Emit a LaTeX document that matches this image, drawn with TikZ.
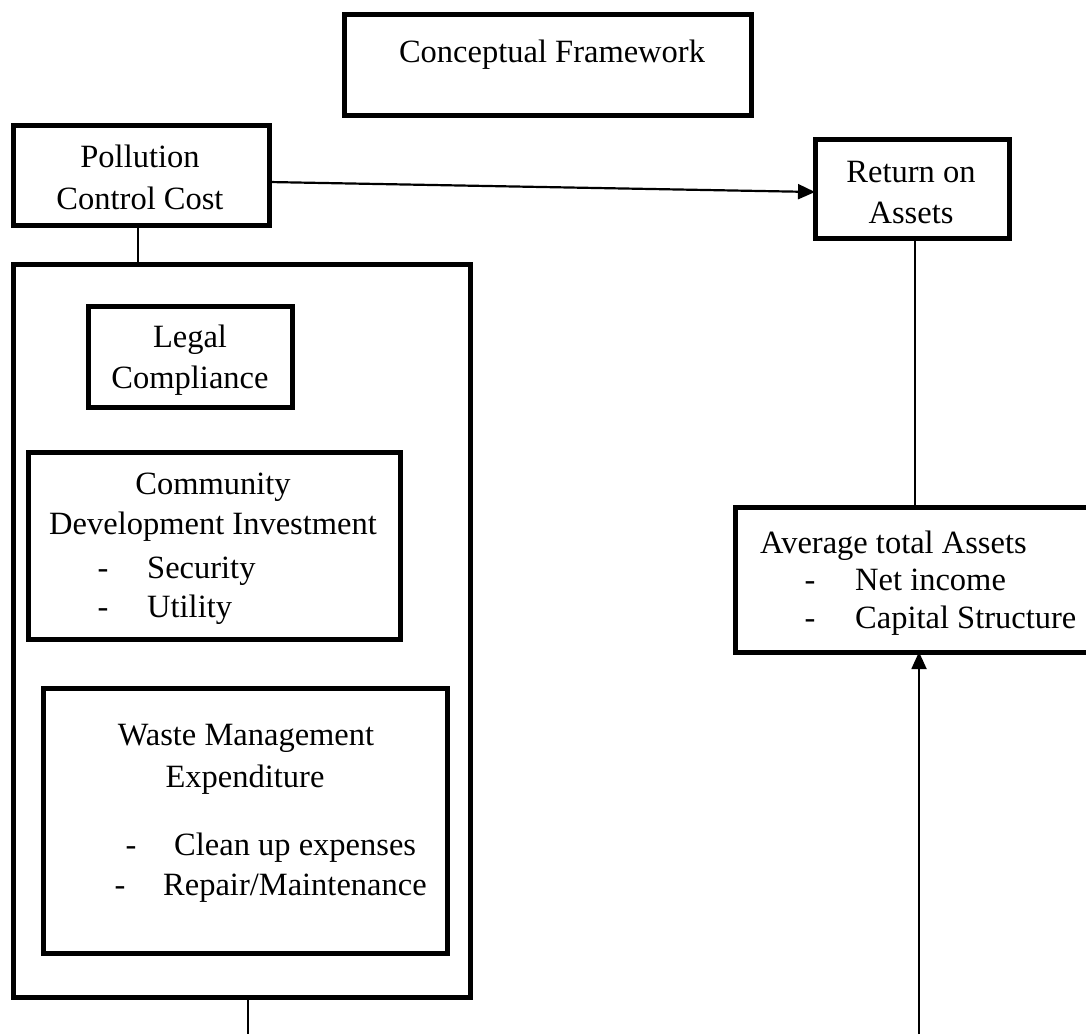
\documentclass[tikz,border=0pt]{standalone}
\usepackage{fontspec}
\setmainfont{Liberation Serif}
\usetikzlibrary{arrows.meta,calc}
\tikzset{
  box/.style={draw, line width=5pt, rectangle, inner sep=0pt, outer sep=0pt},
  txt/.style={anchor=base, inner sep=0pt, font=\fontsize{32.5}{39}\selectfont},
  ltxt/.style={anchor=base west, inner sep=0pt, font=\fontsize{32.5}{39}\selectfont},
  conn/.style={line width=1.8pt},
  arr/.style={line width=2.2pt, -{Triangle[length=17pt,width=15pt]}}
}
\begin{document}
\begin{tikzpicture}[x=1pt,y=-1pt]
\useasboundingbox (0,0) rectangle (1086,1034);
% boxes
\node[box, minimum width=407pt, minimum height=101pt] (title) at (547.5,64.5) {};
\node[box, minimum width=256pt, minimum height=100pt] (poll) at (141,175) {};
\node[box, minimum width=194pt, minimum height=99pt] (roa) at (912,188.5) {};
\node[box, minimum width=457pt, minimum height=733pt] (outer) at (241.5,630.5) {};
\node[box, minimum width=204pt, minimum height=101pt] (legal) at (190,356.5) {};
\node[box, minimum width=372pt, minimum height=187pt] (comm) at (214,545.5) {};
\node[box, minimum width=404pt, minimum height=265pt] (waste) at (245,820.5) {};
\node[box, minimum width=360pt, minimum height=145pt] (avg) at (915,579.5) {};
% texts
\node[txt] (t1) at (552,62) {Conceptual Framework};
\node[txt] (p1) at (140,167) {Pollution};
\node[txt] (p2) at (140,209) {Control Cost};
\node[txt] (r1) at (911,182) {Return on};
\node[txt] (r2) at (911,223) {Assets};
\node[txt] (l1) at (190,347) {Legal};
\node[txt] (l2) at (190,388) {Compliance};
\node[txt] (c1) at (213,494) {Community};
\node[txt] (c2) at (213,534) {Development Investment};
\node[txt] (cd1) at (103,578) {-};
\node[ltxt] (c3) at (147,578) {Security};
\node[txt] (cd2) at (103,617) {-};
\node[ltxt] (c4) at (147,617) {Utility};
\node[txt] (w1) at (246,745) {Waste Management};
\node[txt] (w2) at (245,787) {Expenditure};
\node[txt] (wd1) at (131,855) {-};
\node[ltxt] (w3) at (174,855) {Clean up expenses};
\node[txt] (wd2) at (120,895) {-};
\node[ltxt] (w4) at (163,895) {Repair/Maintenance};
\node[ltxt] (a1) at (760,553) {Average total Assets};
\node[txt] (ad1) at (810,590) {-};
\node[ltxt] (a2) at (855,590) {Net income};
\node[txt] (ad2) at (810,628) {-};
\node[ltxt] (a3) at (855,628) {Capital Structure};
% connectors
\draw[arr] ([yshift=-7pt]poll.east) -- ([yshift=-3.5pt]roa.west);
\draw[conn] ([xshift=-3pt]poll.south) -- ([xshift=-3pt]poll.south |- outer.north);
\draw[conn] ([xshift=3pt]roa.south) -- ([xshift=3pt]roa.south |- avg.north);
\coordinate (bl) at (248,1034);
\coordinate (br) at (919,1034);
\draw[conn] (bl |- outer.south) -- (bl);
\draw[arr, line width=1.8pt] (br) -- (br |- avg.south);
\end{tikzpicture}
\end{document}
